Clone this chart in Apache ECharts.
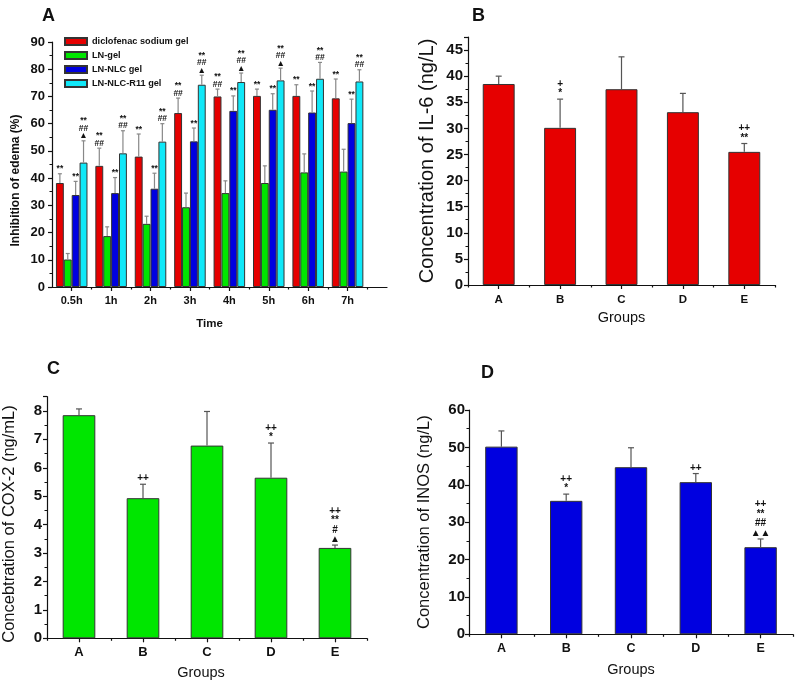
<!DOCTYPE html>
<html><head><meta charset="utf-8">
<script src="https://cdn.jsdelivr.net/npm/echarts@6/dist/echarts.min.js"></script>
<style>html,body{margin:0;padding:0;background:#fff}#c{width:798px;height:684px}</style>
</head><body><div id="c"></div>
<script>
// ---------- Panel A data ----------
const timeLabels = ['0.5h', '1h', '2h', '3h', '4h', '5h', '6h', '7h'];
const timePositions = [1, 2, 3, 4, 5, 6, 7, 8];
const timeMinorTicks = [1.5, 2.5, 3.5, 4.5, 5.5, 6.5, 7.5, 8.5];
const seriesNames = ['diclofenac sodium gel', 'LN-gel', 'LN-NLC gel', 'LN-NLC-R11 gel'];
const aDiclofenac = [38.2, 44.5, 47.9, 63.9, 70.0, 70.2, 70.2, 69.3];
const aDiclofenacSd = [3.4, 6.5, 8.3, 5.5, 2.7, 2.5, 4.1, 7.1];
const aLnGel = [10.1, 18.7, 23.2, 29.3, 34.5, 38.2, 42.1, 42.4];
const aLnGelSd = [2.2, 3.4, 2.8, 5.2, 4.5, 6.3, 6.8, 8.2];
const aLnNlc = [33.8, 34.5, 36.1, 53.5, 64.7, 65.1, 64.1, 60.2];
const aLnNlcSd = [5.0, 5.7, 5.7, 4.9, 5.5, 5.9, 7.9, 8.8];
const aLnNlcR11 = [45.7, 49.1, 53.4, 74.3, 75.3, 75.9, 76.5, 75.5];
const aLnNlcR11Sd = [8.0, 8.3, 6.6, 3.5, 3.3, 4.5, 6.0, 4.3];
const aDiclofenacMarks = ['**', '**\n##', '**', '**\n##', '**\n##', '**', '**', '**'];
const aLnGelMarks = ['', '', '', '', '', '', '', ''];
const aLnNlcMarks = ['**', '**', '**', '**', '**', '**', '**', '**'];
const aLnNlcR11Marks = ['**\n##\n▲', '**\n##', '**\n##', '**\n##\n▲', '**\n##\n▲', '**\n##\n▲', '**\n##', '**\n##'];

// ---------- Panels B-D data ----------
const groups = ['A', 'B', 'C', 'D', 'E'];
const il6 = [38.5, 30.1, 37.5, 33.1, 25.5];
const il6Sd = [1.5, 5.5, 6.2, 3.6, 1.6];
const il6Marks = ['', '+\n*', '', '', '++\n**'];
const cox2 = [7.85, 4.93, 6.78, 5.65, 3.18];
const cox2Sd = [0.22, 0.49, 1.2, 1.22, 0.1];
const cox2Marks = ['', '++', '', '++\n*', '++\n**\n#\n▲'];
const inos = [50.2, 35.7, 44.7, 40.7, 23.3];
const inosSd = [4.2, 1.8, 5.2, 2.3, 2.2];
const inosMarks = ['', '++\n*', '', '++', '++\n**\n##\n▲▲'];

const FONT = "'Liberation Sans', Arial, sans-serif";
const colors = ['#e60000', '#00e600', '#0000e0', '#10e8f8'];

function errRenderer(marks, offsetFrac, capW, color, fontSize, lineH) {
  return function (params, api) {
    const xv = api.value(0), v = api.value(1), sd = api.value(2);
    const band = api.size([1, 0])[0];
    const p0 = api.coord([xv, v]);
    const p1 = api.coord([xv, v + sd]);
    const x = p0[0] + offsetFrac * band;
    const children = [
      { type: 'line', shape: { x1: x, y1: p0[1], x2: x, y2: p1[1] }, style: { stroke: color, lineWidth: 1.2 } },
      { type: 'line', shape: { x1: x - capW / 2, y1: p1[1], x2: x + capW / 2, y2: p1[1] }, style: { stroke: color, lineWidth: 1.2 } }
    ];
    const t = marks[params.dataIndex];
    if (t) {
      children.push({ type: 'text', x: x, y: p1[1] - 1,
        style: { text: t, fill: '#111', font: 'bold ' + fontSize + 'px ' + FONT, align: 'center', verticalAlign: 'bottom', lineHeight: lineH } });
    }
    return { type: 'group', children: children };
  };
}

const axisLineStyle = { color: '#111', width: 1.2 };
function yAxisDef(grid, max, interval, fs, name, nameFs, nameBold, nameGap, pad, margin) {
  return {
    type: 'value', gridIndex: grid, min: 0, max: max, interval: interval,
    axisLine: { show: true, lineStyle: axisLineStyle },
    axisTick: { show: true, length: 4, lineStyle: axisLineStyle },
    minorTick: { show: true, splitNumber: 2, length: 2.5, lineStyle: { color: '#111', width: 1 } },
    splitLine: { show: false },
    axisLabel: { fontFamily: FONT, fontWeight: 'bold', fontSize: fs, color: '#111', margin: margin, showMaxLabel: max % interval === 0 },
    name: name, nameLocation: 'middle', nameGap: nameGap,
    nameTextStyle: { fontFamily: FONT, fontSize: nameFs, fontWeight: nameBold ? 'bold' : 'normal', color: '#111', padding: pad }
  };
}
function catAxes(grid, fs, margin, nameGap, pad) {
  return [{
    type: 'category', gridIndex: grid, data: groups, position: 'bottom',
    axisLine: { show: true, lineStyle: axisLineStyle },
    axisTick: { show: true, alignWithLabel: true, length: 4, lineStyle: axisLineStyle },
    axisLabel: { fontFamily: FONT, fontWeight: 'bold', fontSize: fs, color: '#111', margin: margin },
    name: 'Groups', nameLocation: 'middle', nameGap: nameGap,
    nameTextStyle: { fontFamily: FONT, fontSize: 14.5, color: '#111', padding: pad }
  }, {
    type: 'category', gridIndex: grid, data: groups, position: 'bottom',
    axisLine: { show: false }, axisLabel: { show: false },
    axisTick: { show: true, length: 2.5, lineStyle: axisLineStyle }
  }];
}

const aVals = [aDiclofenac, aLnGel, aLnNlc, aLnNlcR11];
const aSds = [aDiclofenacSd, aLnGelSd, aLnNlcSd, aLnNlcR11Sd];
const aMarks = [aDiclofenacMarks, aLnGelMarks, aLnNlcMarks, aLnNlcR11Marks];

const series = [];
aVals.forEach((vals, k) => {
  series.push({
    name: seriesNames[k], type: 'bar', xAxisIndex: 0, yAxisIndex: 0,
    barWidth: '20%', barGap: '0%',
    itemStyle: { color: colors[k], borderColor: '#333', borderWidth: 1 },
    data: timePositions.map((x, i) => [x, vals[i]])
  });
});
aVals.forEach((vals, k) => {
  series.push({
    type: 'custom', xAxisIndex: 0, yAxisIndex: 0, clip: false, z: 5,
    renderItem: errRenderer(aMarks[k], (k - 1.5) * 0.2, 4, '#888', 8.5, 7.5),
    data: timePositions.map((x, i) => [x, vals[i], aSds[k][i]])
  });
});
const panels = [
  { vals: il6, sd: il6Sd, marks: il6Marks, color: '#e60000', xi: 2, yi: 1, bw: '52%' },
  { vals: cox2, sd: cox2Sd, marks: cox2Marks, color: '#00e600', xi: 4, yi: 2, bw: '51%' },
  { vals: inos, sd: inosSd, marks: inosMarks, color: '#0000e0', xi: 6, yi: 3, bw: '50%' }
];
panels.forEach(p => {
  series.push({
    type: 'bar', xAxisIndex: p.xi, yAxisIndex: p.yi, barWidth: p.bw,
    itemStyle: { color: p.color, borderColor: '#333', borderWidth: 1 },
    data: p.vals
  });
  series.push({
    type: 'custom', xAxisIndex: p.xi, yAxisIndex: p.yi, clip: false, z: 5,
    renderItem: errRenderer(p.marks, 0, 6, '#555', 10, 9.5),
    data: p.vals.map((v, i) => [i, v, p.sd[i]])
  });
});

const option = {
  animation: false,
  backgroundColor: '#fff',
  title: [
    { text: 'A', left: 37, top: 2, textStyle: { fontFamily: FONT, fontSize: 18, fontWeight: 'bold', color: '#111' } },
    { text: 'B', left: 467, top: 2, textStyle: { fontFamily: FONT, fontSize: 18, fontWeight: 'bold', color: '#111' } },
    { text: 'C', left: 42, top: 355, textStyle: { fontFamily: FONT, fontSize: 18, fontWeight: 'bold', color: '#111' } },
    { text: 'D', left: 476, top: 359, textStyle: { fontFamily: FONT, fontSize: 18, fontWeight: 'bold', color: '#111' } }
  ],
  legend: {
    data: seriesNames, orient: 'vertical', left: 59, top: 31, itemWidth: 22, itemHeight: 7, itemGap: 3,
    icon: 'rect',
    textStyle: { fontFamily: FONT, fontSize: 9.2, fontWeight: 'bold', color: '#111', lineHeight: 11 }
  },
  grid: [
    { left: 52, top: 42, width: 335, height: 245 },
    { left: 468, top: 37, width: 307, height: 248 },
    { left: 45, top: 396.7, width: 322, height: 241.6 },
    { left: 469, top: 410, width: 324, height: 224.3 }
  ],
  xAxis: [
    {
      type: 'value', gridIndex: 0, min: 0.5, max: 9, position: 'bottom',
      axisLine: { show: true, onZero: false, lineStyle: axisLineStyle },
      axisTick: { show: true, length: 4, customValues: timePositions, lineStyle: axisLineStyle },
      axisLabel: { customValues: timePositions, fontFamily: FONT, fontWeight: 'bold', fontSize: 11, color: '#111', margin: 8,
        formatter: v => timeLabels[Math.round(v) - 1] || '' },
      splitLine: { show: false },
      name: 'Time', nameLocation: 'middle', nameGap: 31,
      nameTextStyle: { fontFamily: FONT, fontSize: 11.5, fontWeight: 'bold', color: '#111', padding: [0, 20, 0, 0] }
    },
    {
      type: 'value', gridIndex: 0, min: 0.5, max: 9, position: 'bottom',
      axisLine: { show: false }, axisLabel: { show: false }, splitLine: { show: false },
      axisTick: { show: true, length: 2.5, customValues: timeMinorTicks, lineStyle: axisLineStyle }
    },
    ...catAxes(1, 11.5, 9, 25, [0, 0, 0, 0]),
    ...catAxes(2, 13, 8, 27, [0, 12, 0, 0]),
    ...catAxes(3, 12.5, 8, 28, [0, 0, 0, 0])
  ],
  yAxis: [
    yAxisDef(0, 90, 10, 13, 'Inhibition of edema (%)', 12, true, 30, [0, 32, 0, 0], 7),
    yAxisDef(1, 47.5, 5, 15, 'Concentration of IL-6 (ng/L)', 20, false, 31, [0, 0, 0, 0], 5),
    yAxisDef(2, 8.5, 1, 15, 'Concebtration of COX-2 (ng/mL)', 16.5, false, 29, [0, 13, 0, 0], 5),
    yAxisDef(3, 60, 10, 15, 'Concentration of INOS (ng/L)', 16.5, false, 36, [0, 0, 0, 0], 4)
  ],
  series: series
};
const chart = echarts.init(document.getElementById('c'));
chart.setOption(option);
</script></body></html>
